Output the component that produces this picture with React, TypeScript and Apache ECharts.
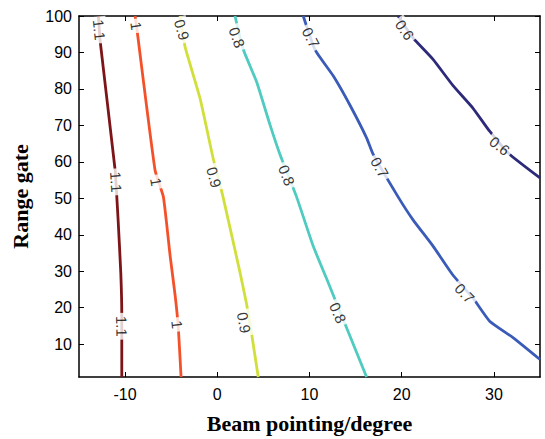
import React, { useEffect, useRef } from "react";
import * as echarts from "echarts";

// Contour levels and colours
const levelNames = ["1.1", "1", "0.9", "0.8", "0.7", "0.6"];
const levelColors = ["#7d1518", "#f4512b", "#d1df3a", "#4fcbc0", "#3a5cb8", "#2d2a7a"];

// Contour lines, [beam pointing (deg), range gate]
const contour11 = [[-12.9, 100], [-12.7, 93], [-11.08, 57.7], [-10.9, 50.4], [-10.76, 44.2], [-10.47, 29.7], [-10.36, 18.1], [-10.36, 1]];
const contour10 = [[-8.91, 100], [-8.67, 95.4], [-6.75, 57.7], [-5.85, 50.4], [-5.12, 34.3], [-4.58, 23.5], [-4.23, 14.6], [-3.93, 1]];
const contour09 = [[-4.04, 100], [-3.5, 91.6], [-1.87, 77.4], [-0.47, 61.2], [0.62, 50.4], [2.46, 29.7], [3.19, 20.8], [3.73, 12.7], [4.44, 1]];
const contour08 = [[1.92, 100], [2.82, 90.8], [4.27, 81.9], [5.71, 70.2], [6.79, 62.1], [8.6, 50.4], [10.4, 36.9], [11.85, 28], [14.02, 14.5], [16.19, 1]];
const contour07 = [[9.32, 100], [10.59, 90.8], [12.57, 83.6], [14.38, 75.6], [16.19, 66.6], [16.9, 62.1], [19.61, 50.4], [21.23, 44.1], [23.4, 36.9], [25.57, 28.9], [27.74, 22.6], [29.54, 16.3], [32.07, 11.8], [35, 5.8]];
const contour06 = [[19.61, 100], [21.23, 94], [23.4, 88.1], [25.57, 80.9], [27.74, 74.7], [29.54, 68.4], [31.7, 62.1], [35, 55.6]];
const contours = [contour11, contour10, contour09, contour08, contour07, contour06];

// Inline contour labels: [x, y, rotation]
const labels11 = [[-12.8, 96.2, -84], [-10.97, 54.5, -86], [-10.36, 14.9, -89]];
const labels10 = [[-8.8, 97.3, -82], [-6.64, 54.5, -80], [-4.36, 15.4, -84]];
const labels09 = [[-3.83, 96.2, -74], [-0.35, 55.8, -74], [2.9, 15.9, -80]];
const labels08 = [[2.14, 94.1, -70], [7.52, 56.3, -68], [13.08, 18.6, -66]];
const labels07 = [[10.15, 94.1, -62], [17.63, 58.5, -60], [26.84, 24, -46]];
const labels06 = [[20.33, 96.2, -55], [30.63, 64.4, -38]];
const labelSets = [labels11, labels10, labels09, labels08, labels07, labels06];

const xTicks = [-10, 0, 10, 20, 30];
const yTicks = [10, 20, 30, 40, 50, 60, 70, 80, 90, 100];

export default function App() {
  const ref = useRef<HTMLDivElement>(null);
  useEffect(() => {
    const chart = echarts.init(ref.current!, null, { renderer: "svg" });
    const tickFont = { fontFamily: "Liberation Sans, Arial, sans-serif", fontSize: 16, color: "#000" };
    const nameFont = { fontFamily: "Liberation Serif, Times New Roman, serif", fontSize: 22, fontWeight: "bold", color: "#000" };
    const axisLine = { show: true, onZero: false, lineStyle: { color: "#000", width: 1.5 } };
    const lineSeries = contours.map((pts, i) => ({
      type: "line",
      data: pts,
      xAxisIndex: 0,
      yAxisIndex: 0,
      showSymbol: false,
      symbol: "none",
      smooth: 0.15,
      lineStyle: { color: levelColors[i], width: 2.8 },
      z: 2,
    }));
    const labelSeries = labelSets.map((set, i) => ({
      type: "scatter",
      xAxisIndex: 0,
      yAxisIndex: 0,
      symbolSize: 0,
      z: 5,
      data: set.map((l) => ({
        value: [l[0], l[1]],
        label: { rotate: l[2] },
      })),
      label: {
        show: true,
        position: "inside",
        formatter: levelNames[i],
        fontFamily: "Liberation Sans, Arial, sans-serif",
        fontSize: 15,
        color: "#000",
        backgroundColor: "#fff",
        padding: [0, 3],
      },
    }));
    chart.setOption({
      animation: false,
      grid: { left: 79, top: 16, right: 5, bottom: 56, containLabel: false },
      xAxis: [
        {
          type: "value",
          min: -15,
          max: 35,
          position: "bottom",
          name: "Beam pointing/degree",
          nameLocation: "middle",
          nameGap: 35,
          nameTextStyle: nameFont,
          axisLine,
          axisTick: { show: true, inside: true, length: 5, lineStyle: { color: "#000" }, customValues: xTicks },
          axisLabel: { ...tickFont, margin: 9, customValues: xTicks },
          splitLine: { show: false },
        },
        {
          type: "value",
          min: -15,
          max: 35,
          position: "top",
          axisLine,
          axisTick: { show: true, inside: true, length: 5, lineStyle: { color: "#000" }, customValues: xTicks },
          axisLabel: { show: false },
          splitLine: { show: false },
        },
      ],
      yAxis: [
        {
          type: "value",
          min: 1,
          max: 100,
          position: "left",
          name: "Range gate",
          nameLocation: "middle",
          nameGap: 48,
          nameTextStyle: nameFont,
          axisLine,
          axisTick: { show: true, inside: true, length: 5, lineStyle: { color: "#000" }, customValues: yTicks },
          axisLabel: { ...tickFont, margin: 7, customValues: yTicks },
          splitLine: { show: false },
        },
        {
          type: "value",
          min: 1,
          max: 100,
          position: "right",
          axisLine,
          axisTick: { show: true, inside: true, length: 5, lineStyle: { color: "#000" }, customValues: yTicks },
          axisLabel: { show: false },
          splitLine: { show: false },
        },
      ],
      series: [...lineSeries, ...labelSeries],
    });
    return () => chart.dispose();
  }, []);
  return (
    <div
      ref={ref}
      style={{ position: "fixed", left: 0, top: 0, width: 545, height: 439, background: "#fff" }}
    />
  );
}
